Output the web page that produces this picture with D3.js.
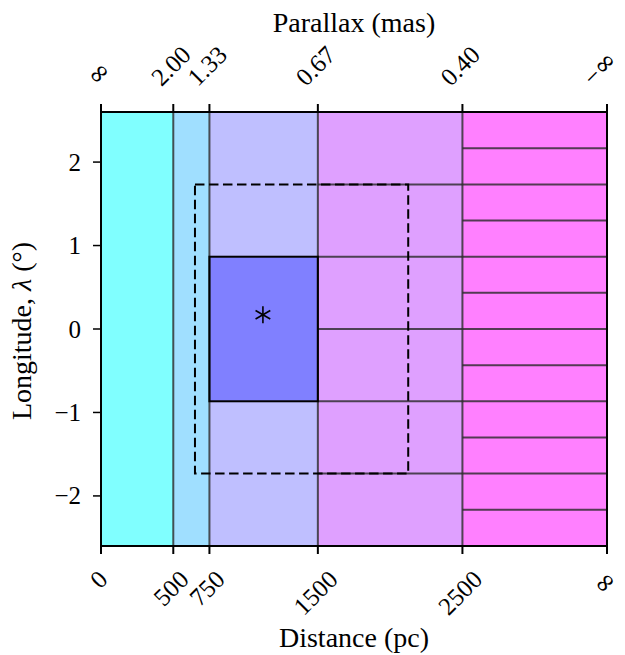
<!DOCTYPE html>
<html>
<head>
<meta charset="utf-8">
<script src="https://cdn.jsdelivr.net/npm/d3@7"></script>
<style>
  html, body { margin: 0; padding: 0; background: #fff; }
  svg text { font-family: "Liberation Serif", "DejaVu Serif", serif; fill: #000; }
  .inf { font-family: "DejaVu Serif", serif; }
</style>
</head>
<body>
<svg id="chart" width="625" height="655"></svg>
<script>
// Distance bands (pc); the last edge stands in for infinity
const bandEdges = [0, 500, 750, 1500, 2500, 3500];
const bandColors = ["#80ffff", "#a0dfff", "#bfbfff", "#dfa0ff", "#ff80ff"];

// Tick labels
const distTicks = [0, 500, 750, 1500, 2500, 3500];
const distLabels = ["0", "500", "750", "1500", "2500", "∞"];
const parallaxLabels = ["∞", "2.00", "1.33", "0.67", "0.40", "−∞"];
const lonTicks = [-2, -1, 0, 1, 2];

// Horizontal cell boundaries (deg) within each band
const cellLines1500 = [-1.732, -0.866, 0, 0.866, 1.732];
const cellLines2500 = [-2.165, -1.732, -1.299, -0.866, -0.433, 0, 0.433, 0.866, 1.299, 1.732, 2.165];

// Target cell, search window and source position
const targetCell = { x0: 750, x1: 1500, y0: -0.866, y1: 0.866 };
const searchBox = { x0: 650, x1: 2125, y0: -1.732, y1: 1.732 };
const source = { d: 1120, lon: 0.17 };

const margin = { left: 101, right: 18, top: 112, bottom: 109 };
const W = 625, H = 655;

const svg = d3.select("#chart");
const x = d3.scaleLinear().domain([0, 3500]).range([margin.left, W - margin.right]);
const y = d3.scaleLinear().domain([-2.6, 2.6]).range([H - margin.bottom, margin.top]);

const [x0, x1] = x.range();
const [yB, yT] = y.range();
const gridColor = "rgba(40,40,40,0.8)";

// Coloured distance bands
svg.append("g").selectAll("rect").data(bandColors).join("rect")
  .attr("x", (d, i) => x(bandEdges[i]))
  .attr("width", (d, i) => x(bandEdges[i + 1]) - x(bandEdges[i]))
  .attr("y", yT).attr("height", yB - yT)
  .attr("fill", d => d);

// Target cell
svg.append("rect")
  .attr("x", x(targetCell.x0)).attr("y", y(targetCell.y1))
  .attr("width", x(targetCell.x1) - x(targetCell.x0))
  .attr("height", y(targetCell.y0) - y(targetCell.y1))
  .attr("fill", "#8080ff");

// Cell grid lines
const grid = svg.append("g").attr("stroke", gridColor).attr("stroke-width", 2);
grid.selectAll("line.v").data(bandEdges.slice(1, -1)).join("line")
  .attr("class", "v")
  .attr("x1", d => x(d)).attr("x2", d => x(d))
  .attr("y1", yT).attr("y2", yB);
grid.selectAll("line.h1").data(cellLines1500).join("line")
  .attr("class", "h1")
  .attr("x1", x(1500)).attr("x2", x(2500))
  .attr("y1", d => y(d)).attr("y2", d => y(d));
grid.selectAll("line.h2").data(cellLines2500).join("line")
  .attr("class", "h2")
  .attr("x1", x(2500)).attr("x2", x(3500))
  .attr("y1", d => y(d)).attr("y2", d => y(d));

// Target cell outline
svg.append("rect")
  .attr("x", x(targetCell.x0)).attr("y", y(targetCell.y1))
  .attr("width", x(targetCell.x1) - x(targetCell.x0))
  .attr("height", y(targetCell.y0) - y(targetCell.y1))
  .attr("fill", "none").attr("stroke", "#000").attr("stroke-width", 2);

// Search window
svg.append("rect")
  .attr("x", x(searchBox.x0)).attr("y", y(searchBox.y1))
  .attr("width", x(searchBox.x1) - x(searchBox.x0))
  .attr("height", y(searchBox.y0) - y(searchBox.y1))
  .attr("fill", "none").attr("stroke", "#000").attr("stroke-width", 2)
  .attr("stroke-dasharray", "9.5,4.5");

// Source marker: six-armed asterisk
const r = 8.5;
const star = svg.append("g")
  .attr("transform", `translate(${x(source.d)},${y(source.lon)})`)
  .attr("stroke", "#000").attr("stroke-width", 1.6);
[90, 30, -30].forEach(a => {
  const rad = a * Math.PI / 180;
  star.append("line")
    .attr("x1", r * Math.cos(rad)).attr("y1", -r * Math.sin(rad))
    .attr("x2", -r * Math.cos(rad)).attr("y2", r * Math.sin(rad));
});

// Frame
svg.append("rect").attr("x", x0).attr("y", yT)
  .attr("width", x1 - x0).attr("height", yB - yT)
  .attr("fill", "none").attr("stroke", "#000").attr("stroke-width", 2);

const fs = 25;
const tickLen = 8;

// Rotated tick labels, centred on their tick; infinity drawn a little larger
function rotatedLabels(g, labels, side) {
  labels.forEach((lab, i) => {
    const t = g.append("text")
      .attr("font-size", fs)
      .attr("text-anchor", "middle")
      .attr("dy", "0.35em");
    lab.split(/(∞)/).filter(s => s.length).forEach(part => {
      const sp = t.append("tspan").text(part);
      if (part === "∞") sp.attr("class", "inf").attr("font-size", fs * 1.05);
    });
    const w = t.node().getComputedTextLength();
    const h = fs * 0.66;
    const ext = (w + h) / Math.SQRT2;
    // full box of the rotated text, used to keep it inside the page
    const bb = t.node().getBBox();
    const extFull = (bb.width + bb.height) / Math.SQRT2;
    const cx = Math.min(x(distTicks[i]) - 2.5, W - 2 - extFull / 2);
    const cy = side === "bottom" ? yB + tickLen + 15 + ext / 2 : yT - tickLen - 17 - ext / 2;
    t.attr("transform", `translate(${cx},${cy}) rotate(-45)`);
  });
}

// Bottom axis
const axBottom = svg.append("g");
axBottom.selectAll("line").data(distTicks).join("line")
  .attr("x1", d => x(d)).attr("x2", d => x(d))
  .attr("y1", yB).attr("y2", yB + tickLen)
  .attr("stroke", "#000").attr("stroke-width", 2);
rotatedLabels(axBottom, distLabels, "bottom");

// Top axis
const axTop = svg.append("g");
axTop.selectAll("line").data(distTicks).join("line")
  .attr("x1", d => x(d)).attr("x2", d => x(d))
  .attr("y1", yT).attr("y2", yT - tickLen)
  .attr("stroke", "#000").attr("stroke-width", 2);
rotatedLabels(axTop, parallaxLabels, "top");

// Left axis
const axLeft = svg.append("g");
axLeft.selectAll("line").data(lonTicks).join("line")
  .attr("x1", x0 - tickLen).attr("x2", x0)
  .attr("y1", d => y(d)).attr("y2", d => y(d))
  .attr("stroke", "#000").attr("stroke-width", 1.5);
axLeft.selectAll("text").data(lonTicks).join("text")
  .attr("x", x0 - 20).attr("y", d => y(d))
  .attr("dy", "0.34em").attr("text-anchor", "end")
  .attr("font-size", fs)
  .text(d => d < 0 ? "−" + Math.abs(d) : String(d));

// Axis titles
svg.append("text").attr("x", (x0 + x1) / 2).attr("y", 647)
  .attr("text-anchor", "middle").attr("font-size", 28).text("Distance (pc)");
svg.append("text").attr("x", (x0 + x1) / 2).attr("y", 32)
  .attr("text-anchor", "middle").attr("font-size", 28).text("Parallax (mas)");
const ylab = svg.append("text")
  .attr("transform", `translate(31,${(yT + yB) / 2 + 2}) rotate(-90)`)
  .attr("text-anchor", "middle").attr("font-size", 28);
ylab.append("tspan").text("Longitude, ");
ylab.append("tspan").attr("font-style", "italic").text("λ");
ylab.append("tspan").text(" (°)");
</script>
</body>
</html>
